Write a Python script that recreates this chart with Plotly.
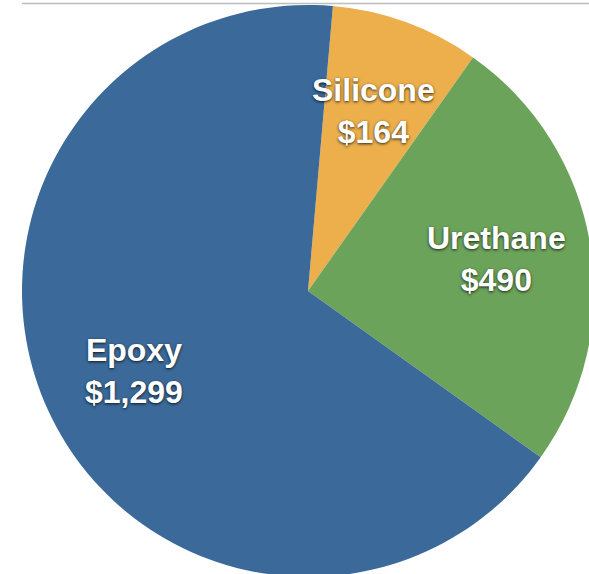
import math
import plotly.graph_objects as go

labels = ["Silicone", "Urethane", "Epoxy"]
values = [164, 490, 1299]
value_text = ["$164", "$490", "$1,299"]
colors = ["#ECAF4C", "#6CA35A", "#3B6A9A"]

ROTATION = 5
W, H = 600, 580
ML, MT = 22, 5
SIDE = 572

fig = go.Figure(go.Pie(
    labels=labels,
    values=values,
    sort=False,
    direction="clockwise",
    rotation=ROTATION,
    marker=dict(colors=colors, line=dict(width=0)),
    textinfo="none",
    hoverinfo="label+value",
    showlegend=False,
    domain=dict(x=[0, 1], y=[0, 1]),
))

# labels at 0.67 of radius along each slice's mid angle
total = sum(values)
acc = 0
for lab, v, t in zip(labels, values, value_text):
    mid = ROTATION + 360 * (acc + v / 2) / total
    acc += v
    a = math.radians(mid)
    r = 0.335
    fig.add_annotation(
        x=0.5 + r * math.sin(a), y=0.5 + r * math.cos(a),
        xref="paper", yref="paper", xanchor="center", yanchor="middle",
        text=f"{lab}<br>{t}", showarrow=False,
        font=dict(family="Liberation Sans, Arial, sans-serif", size=32, color="white",
                  weight="bold", shadow="0px 1px 3px rgba(0,0,0,0.8)"),
        align="center",
    )

fig.add_shape(type="line", xref="paper", yref="paper",
              x0=0, x1=1.2, y0=1 + 1.5 / SIDE, y1=1 + 1.5 / SIDE,
              line=dict(color="#BDBDBD", width=1.5))

fig.update_layout(
    width=W, height=H,
    margin=dict(l=ML, r=W - ML - SIDE, t=MT, b=H - MT - SIDE, pad=0),
    paper_bgcolor="white", plot_bgcolor="white",
)

post = ("document.body.style.margin='0';document.body.style.overflow='hidden';"
        "document.documentElement.style.overflow='hidden';")
fig.write_html("out.html", post_script=post, config={"displayModeBar": False})
